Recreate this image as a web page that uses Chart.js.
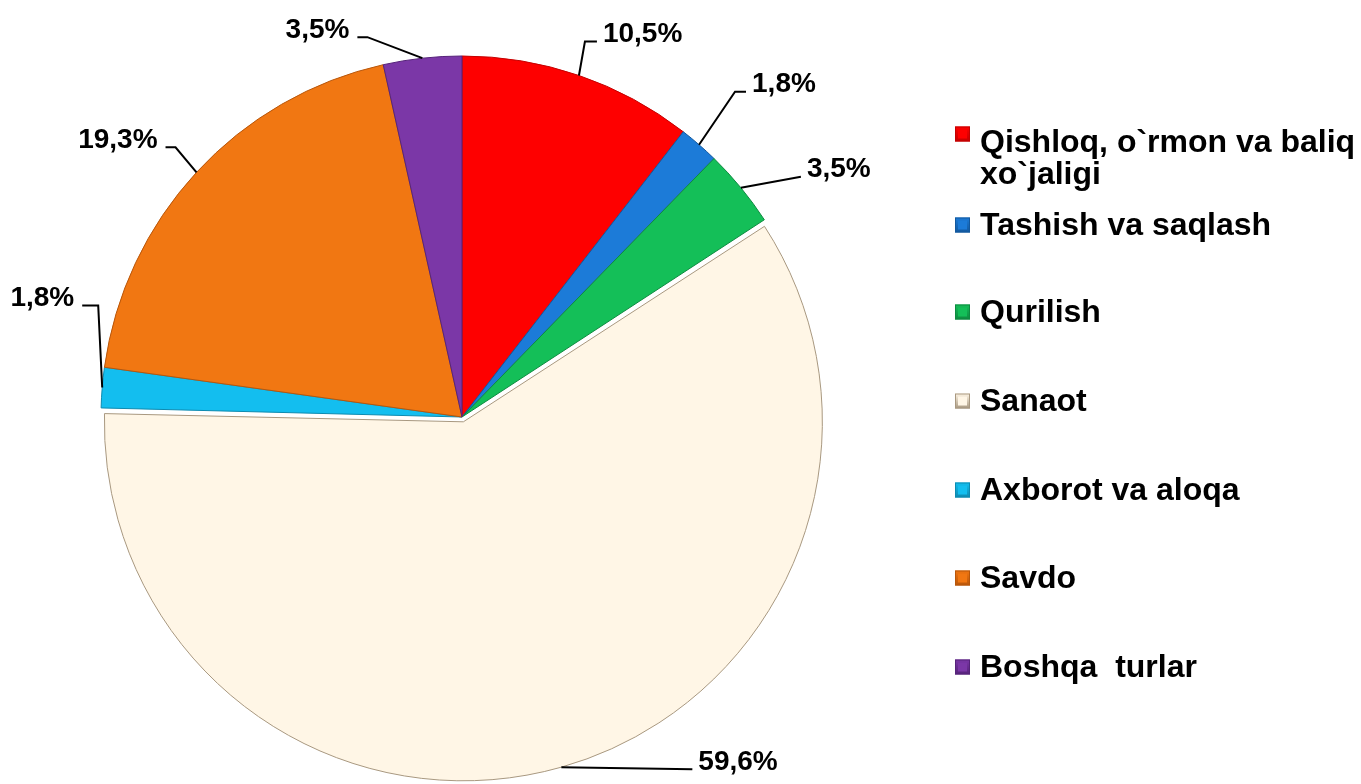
<!DOCTYPE html>
<html>
<head>
<meta charset="utf-8">
<script src="https://cdn.jsdelivr.net/npm/chart.js@4/dist/chart.umd.min.js"></script>
<style>
  html, body { margin: 0; padding: 0; background: #ffffff; }
  canvas { display: block; }
</style>
</head>
<body>
<canvas id="c" width="1361" height="784"></canvas>
<script>
// ---- data ----
const categories = [
  ["Qishloq, o`rmon va baliq", "xo`jaligi"],
  "Tashish va saqlash",
  "Qurilish",
  "Sanaot",
  "Axborot va aloqa",
  "Savdo",
  "Boshqa  turlar"
];
const shares = [10.5, 1.8, 3.5, 59.6, 1.8, 19.3, 3.5];
const sliceColors = ["#FE0000", "#1C7BD8", "#14BF58", "#FFF6E6", "#13BEEF", "#F17712", "#7B37A7"];
const edgeColors  = ["#C40000", "#12589E", "#0E8A40", "#A89880", "#0D8AB0", "#B8560A", "#56237A"];
const explode = [0, 0, 0, 20, 0, 0, 0];

// label leader layout: [elbow dx, elbow dy, horizontal tail]
const labelLayout = [
  [6, -34, 12],
  [36, -53, 11],
  [60, -11, 0],
  [131, 2, 0],
  [-4, -82, -16],
  [-21, -25, -10],
  [-55, -21, -10]
];

const PIE_R = 361;

function fmt(v) { return v.toFixed(1).replace('.', ',') + '%'; }

const fixExplode = {
  id: 'fixExplode',
  afterUpdate(chart) {
    const meta = chart.getDatasetMeta(0);
    meta.data.forEach((arc, i) => {
      const t = (explode[i] || 0) / 4;
      if (t) {
        const circ = arc.endAngle - arc.startAngle;
        const fix = 1 - Math.sin(Math.min(Math.PI, circ));
        arc.outerRadius = PIE_R - t * fix - 2;
      }
    });
  }
};

const leaderLabels = {
  id: 'leaderLabels',
  afterDatasetsDraw(chart) {
    const ctx = chart.ctx;
    const meta = chart.getDatasetMeta(0);
    ctx.save();
    ctx.strokeStyle = '#000';
    ctx.lineWidth = 2;
    ctx.fillStyle = '#000';
    ctx.font = 'bold 28px "Liberation Sans", Arial, sans-serif';
    ctx.textBaseline = 'middle';
    meta.data.forEach((arc, i) => {
      const mid = (arc.startAngle + arc.endAngle) / 2;
      const t = (explode[i] || 0) / 4;
      const circ = arc.endAngle - arc.startAngle;
      const fix = 1 - Math.sin(Math.min(Math.PI, circ));
      const r = arc.outerRadius + t * fix + t;
      const ax = arc.x + Math.cos(mid) * r;
      const ay = arc.y + Math.sin(mid) * r;
      const [dx, dy, h] = labelLayout[i];
      const ex = ax + dx, ey = ay + dy;
      const tx = ex + h;
      ctx.beginPath();
      ctx.moveTo(ax, ay);
      ctx.lineTo(ex, ey);
      if (h) ctx.lineTo(tx, ey);
      ctx.stroke();
      const right = (h > 0) || (h === 0 && dx > 0);
      ctx.textAlign = right ? 'left' : 'right';
      ctx.fillText(fmt(shares[i]), tx + (right ? 6 : -8), ey - 7);
    });
    ctx.restore();
  }
};

const sideLegend = {
  id: 'sideLegend',
  afterDraw(chart) {
    const ctx = chart.ctx;
    const x0 = 955, size = 15, textX = 980;
    const rowY = [134, 225, 312, 401, 490, 578, 667];
    ctx.save();
    ctx.font = 'bold 32px "Liberation Sans", Arial, sans-serif';
    ctx.textBaseline = 'alphabetic';
    ctx.textAlign = 'left';
    chart.data.labels.forEach((lab, i) => {
      const cy = rowY[i];
      const g = ctx.createLinearGradient(0, cy - size / 2, 0, cy + size / 2);
      g.addColorStop(0, sliceColors[i]);
      g.addColorStop(1, edgeColors[i]);
      ctx.fillStyle = g;
      ctx.fillRect(x0, cy - size / 2, size, size);
      ctx.fillStyle = sliceColors[i];
      ctx.fillRect(x0 + 3, cy - size / 2 + 3, size - 6, size - 6);
      ctx.strokeStyle = edgeColors[i];
      ctx.lineWidth = 1;
      ctx.strokeRect(x0 + 0.5, cy - size / 2 + 0.5, size - 1, size - 1);
      ctx.fillStyle = '#000';
      const lines = Array.isArray(lab) ? lab : [lab];
      const base = lines.length > 1 ? cy + 18 : cy + 10;
      lines.forEach((ln, k) => ctx.fillText(ln, textX, base + k * 32));
    });
    ctx.restore();
  }
};

new Chart(document.getElementById('c'), {
  type: 'pie',
  data: {
    labels: categories,
    datasets: [{
      data: shares,
      backgroundColor: sliceColors,
      borderColor: edgeColors,
      borderWidth: 1,
      offset: explode
    }]
  },
  options: {
    responsive: false,
    animation: false,
    radius: PIE_R,
    layout: { padding: { left: 0, right: 437, top: 50, bottom: 0 } },
    plugins: {
      legend: { display: false },
      tooltip: { enabled: false }
    }
  },
  plugins: [fixExplode, leaderLabels, sideLegend]
});
</script>
</body>
</html>
